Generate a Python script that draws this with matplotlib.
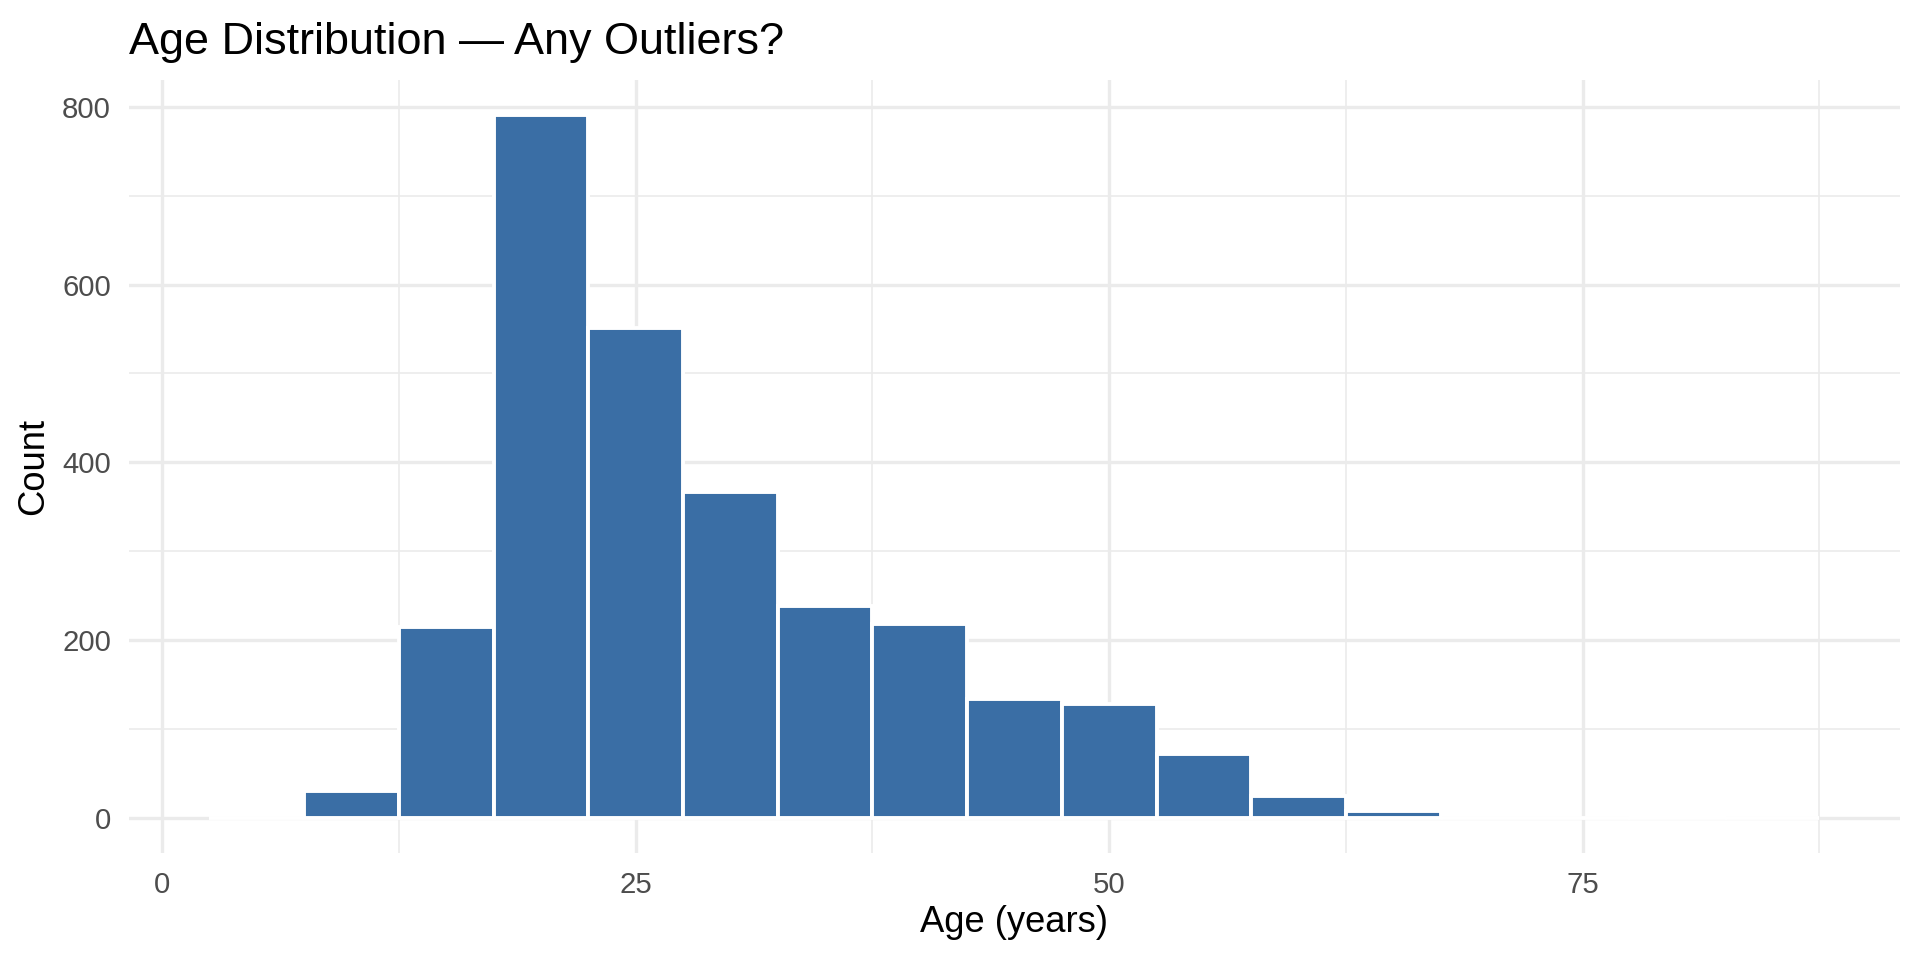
import matplotlib
matplotlib.use("Agg")
from matplotlib import pyplot as plt
from matplotlib.ticker import MultipleLocator

# Histogram bins (centre of each 5-year bin) and counts
bin_centers = [5, 10, 15, 20, 25, 30, 35, 40, 45, 50, 55, 60, 65, 70, 75, 80, 85]
counts = [0, 30, 214, 791, 551, 366, 238, 218, 134, 128, 72, 24, 7, 0, 0, 1, 0]
bin_width = 5

x_ticks = [0, 25, 50, 75]
y_ticks = [0, 200, 400, 600, 800]

title = "Age Distribution \u2014 Any Outliers?"
x_label = "Age (years)"
y_label = "Count"

BAR_COLOR = "#3A6EA5"
GRID_COLOR = "#EBEBEB"
TICK_COLOR = "#4D4D4D"

plt.rcParams["font.family"] = ["Liberation Sans", "DejaVu Sans"]

W, H = 1920, 960
fig = plt.figure(figsize=(9.6, 4.8), dpi=200)
# panel placement in pixels (left, bottom, width, height)
ax = fig.add_axes([129 / W, 107.3 / H, 1771 / W, 773 / H])

ax.bar(
    bin_centers,
    counts,
    width=bin_width,
    color=BAR_COLOR,
    edgecolor="white",
    linewidth=1.4,
    zorder=3,
)

lo = min(bin_centers) - bin_width / 2
hi = max(bin_centers) + bin_width / 2
pad = (hi - lo) * 0.05
ax.set_xlim(lo - pad, hi + pad)
ymax = max(counts)
ax.set_ylim(-ymax * 0.05, ymax * 1.05)

ax.set_xticks(x_ticks)
ax.set_yticks(y_ticks)
ax.xaxis.set_minor_locator(MultipleLocator(12.5))
ax.yaxis.set_minor_locator(MultipleLocator(100))

ax.grid(which="major", color=GRID_COLOR, linewidth=1.2, zorder=0)
ax.grid(which="minor", color=GRID_COLOR, linewidth=0.6, zorder=0)
ax.set_axisbelow(True)

for s in ax.spines.values():
    s.set_visible(False)
ax.tick_params(which="both", length=0)
ax.tick_params(axis="both", labelsize=10.6, labelcolor=TICK_COLOR, pad=6.5)

ax.set_xlabel(x_label, fontsize=13.1, color="black")
ax.set_ylabel(y_label, fontsize=13.1, color="black")
ax.xaxis.set_label_coords(0.5, (852.7 - 922) / 773)
ax.xaxis.label.set_verticalalignment("center")
ax.yaxis.set_label_coords((34 - 129) / 1771, 0.5)
ax.yaxis.label.set_verticalalignment("center")

fig.text(129 / W, 1 - 54 / H, title, fontsize=16.2, color="black",
         ha="left", va="baseline")

fig.savefig("out.png", dpi=200, facecolor="white")
plt.close(fig)
